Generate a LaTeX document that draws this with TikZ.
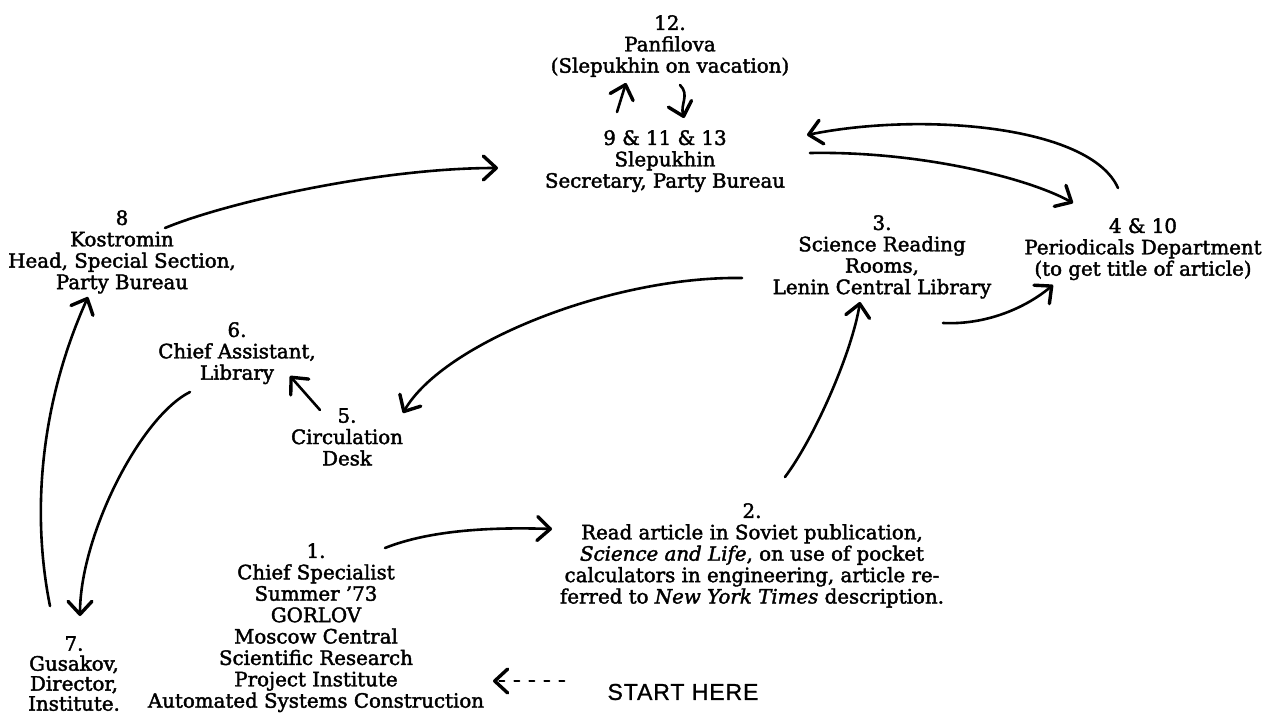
\documentclass[tikz,border=0pt]{standalone}
\usepackage{fontspec}
\setmainfont[FakeBold=2]{DejaVu Serif}
\newfontfamily\startfont[FakeBold=1,LetterSpace=4]{Liberation Sans}
\usetikzlibrary{arrows.meta}
\begin{document}
\begin{tikzpicture}[x=1pt,y=-1pt,stn/.style={align=center,inner sep=0pt,anchor=north,
					font=\fontsize{19.8}{21.4}\selectfont},hop/.style={line width=2.6pt,line cap=round,
					-{Straight Barb[round,length=13pt,width=24pt,line width=3.4pt]}}]
	\useasboundingbox (0,0) rectangle (1267,717);
	\node[stn] (panfilova) at (670,15) {12.\\Panfilova\\(Slepukhin on vacation)};
	\node[stn] (slepukhin) at (665,130) {9 \& 11 \& 13\\Slepukhin\\Secretary, Party Bureau};
	\node[stn] (kostromin) at (122,210) {8\\Kostromin\\Head, Special Section,\\Party Bureau};
	\node[stn] (assistant) at (237,322) {6.\\Chief Assistant,\\Library};
	\node[stn] (circulation) at (347,408) {5.\\Circulation\\Desk};
	\node[stn] (reading) at (882,215) {3.\\Science Reading\\Rooms,\\Lenin Central Library};
	\node[stn] (periodicals) at (1143,218) {4 \& 10\\Periodicals Department\\(to get title of article)};
	\node[stn] (article) at (752,503) {2.\\Read article in Soviet publication,\\
			\textit{Science and Life}, on use of pocket\\calculators in engineering, article re-\\
			ferred to \textit{New York Times} description.};
	\node[stn] (gorlov) at (316,543) {1.\\Chief Specialist\\Summer '73\\GORLOV\\Moscow Central\\
			Scientific Research\\Project Institute\\Automated Systems Construction};
	\node[stn,font=\fontsize{19.8}{20}\selectfont] (gusakov) at (74,636) {7.\\Gusakov,\\Director,\\Institute.};
	\node[inner sep=0pt,font=\startfont\fontsize{23}{24}\selectfont] (start) at (683,692) {START HERE};
	\draw[hop] ([shift={(69,5)}]gorlov.north) .. controls +(45,-18) and +(-60,-2) .. ([shift={(-200,26)}]article.north);
	\draw[hop] ([shift={(33,-26)}]article.north) .. controls +(30,-40) and +(-8,50) .. ([shift={(-22,87)}]reading.north);
	\draw[hop] ([shift={(61,108)}]reading.north) .. controls +(40,2) and +(-30,25) .. ([shift={(-90,67)}]periodicals.north);
	\draw[hop] ([shift={(145,23)}]slepukhin.north) .. controls +(110,-2) and +(-45,-25) .. ([shift={(-70,-15)}]periodicals.north);
	\draw[hop] ([shift={(-25,-30)}]periodicals.north) .. controls +(-28,-63) and +(113,-23) .. ([shift={(142,5)}]slepukhin.north);
	\draw[hop] ([shift={(43,18)}]kostromin.north) .. controls +(60,-25) and +(-120,0) .. ([shift={(-167,38)}]slepukhin.north);
	\draw[hop] ([shift={(-140,63)}]reading.north) .. controls +(-130,-2) and +(40,-70) .. ([shift={(56,5)}]circulation.north);
	\draw[hop] ([shift={(-27,2)}]circulation.north) -- ([shift={(53,54)}]assistant.north);
	\draw[hop] ([shift={(-47,70)}]assistant.north) .. controls +(-50,25) and +(0,-80) .. ([shift={(6,-20)}]gusakov.north);
	\draw[hop] ([shift={(-24,-30)}]gusakov.north) .. controls +(-20,-100) and +(-45,100) .. ([shift={(-34,87)}]kostromin.north);
	\draw[hop] ([shift={(-48,-18)}]slepukhin.north) -- ([shift={(-44,68)}]panfilova.north);
	\draw[hop] ([shift={(10,70)}]panfilova.north) .. controls +(10,10) and +(-4,-14) .. ([shift={(19,-12)}]slepukhin.north);
	\draw[hop,line width=2.2pt,dash pattern=on 5pt off 10pt] ([shift={(-43,-11)}]start.west) -- ([shift={(177,138)}]gorlov.north);
\end{tikzpicture}
\end{document}
